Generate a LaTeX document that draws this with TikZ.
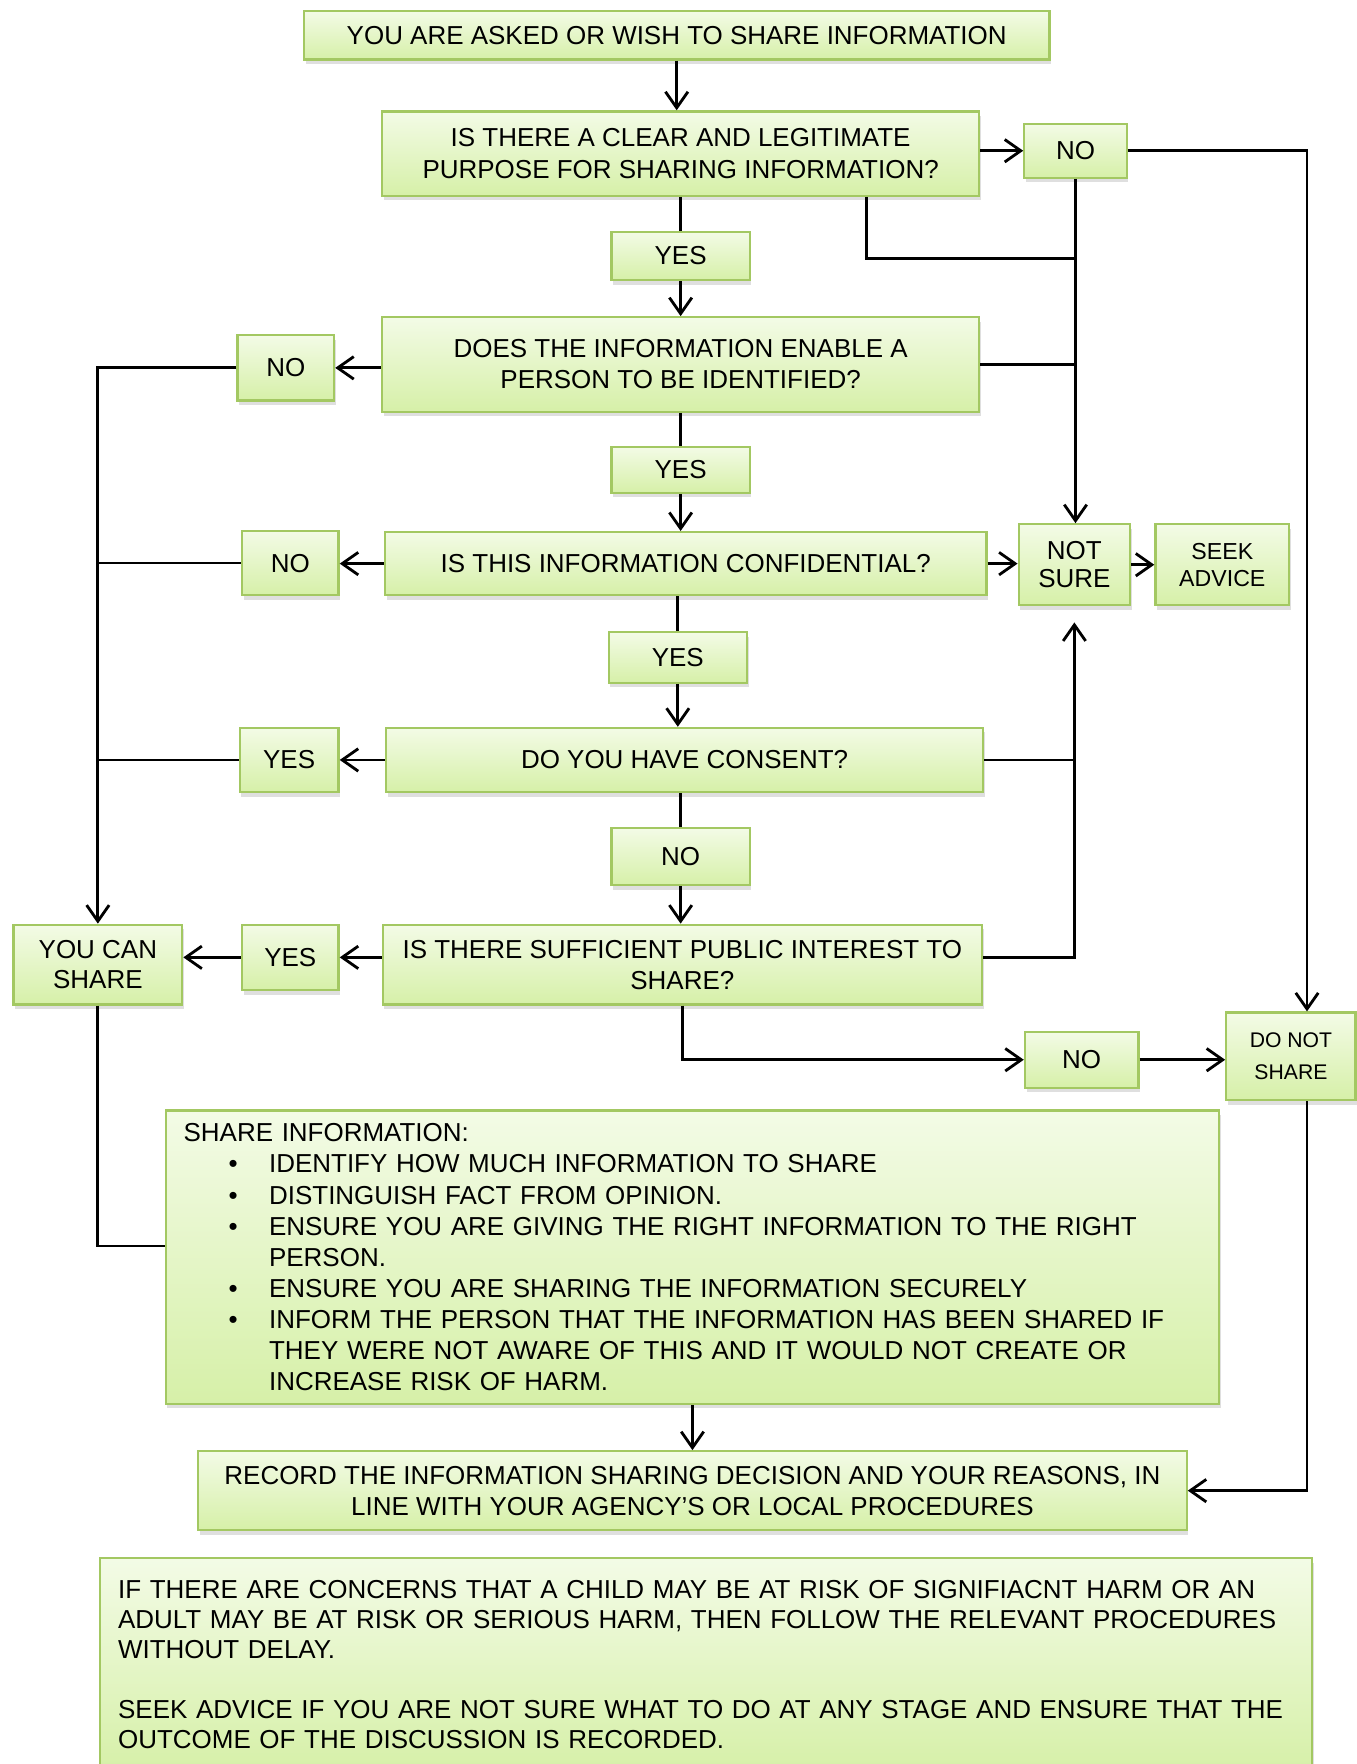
\documentclass[tikz,border=0pt]{standalone}
\usepackage{fontspec}
\setmainfont{Liberation Sans}
\usetikzlibrary{arrows.meta,shadows}
\definecolor{boxtop}{RGB}{243,251,230}
\definecolor{boxbot}{RGB}{214,240,168}
\definecolor{boxline}{RGB}{163,200,98}
\newcommand{\boxfont}{\fontsize{9.2}{11}\selectfont}
\newcommand{\infoitem}{\par\leftskip=1.064cm\relax\noindent\llap{\textbullet\hspace{0.39cm}}}
\tikzset{
  box/.style={draw=boxline, line width=0.8pt, top color=boxtop, bottom color=boxbot,
    drop shadow={shadow xshift=0.6pt, shadow yshift=-1.6pt, opacity=0.25},
    font=\boxfont, align=center, inner sep=2pt},
  note/.style={box, align=left, inner xsep=0.224cm, inner ysep=0.16cm}
}
\begin{document}
\begin{tikzpicture}[x=0.014cm, y=-0.014cm, >={Straight Barb[length=2mm,width=2.8mm]}, line width=1pt]
        \useasboundingbox (0,0) rectangle (1206,1568);
        \node[box, minimum width=9.282cm, minimum height=0.602cm] (S) at (601.5,31.5) {YOU ARE ASKED OR WISH TO SHARE INFORMATION};
        \node[box, minimum width=7.434cm, minimum height=1.05cm] (Q1) at (605,136.5) {IS THERE A CLEAR AND LEGITIMATE\\PURPOSE FOR SHARING INFORMATION?};
        \node[box, minimum width=1.274cm, minimum height=0.672cm] (N1) at (956,134) {NO};
        \node[box, minimum width=1.722cm, minimum height=0.602cm] (Y1) at (605,227.5) {YES};
        \node[box, minimum width=7.434cm, minimum height=1.176cm] (Q2) at (605,324) {DOES THE INFORMATION ENABLE A\\PERSON TO BE IDENTIFIED?};
        \node[box, minimum width=1.204cm, minimum height=0.812cm] (N2) at (254,327) {NO};
        \node[box, minimum width=1.722cm, minimum height=0.574cm] (Y2) at (605,417.5) {YES};
        \node[box, minimum width=7.49cm, minimum height=0.784cm] (Q3) at (609.5,501) {IS THIS INFORMATION CONFIDENTIAL?};
        \node[box, minimum width=1.204cm, minimum height=0.798cm] (N3) at (258,500.5) {NO};
        \node[box, minimum width=1.386cm, minimum height=1.008cm, font=\fontsize{9.2}{10}\selectfont] (NS) at (955,502) {NOT\\SURE};
        \node[box, minimum width=1.666cm, minimum height=1.008cm, font=\fontsize{8.2}{9.6}\selectfont] (SA) at (1086.5,502) {SEEK\\ADVICE};
        \node[box, minimum width=1.722cm, minimum height=0.63cm] (Y3) at (602.5,584.5) {YES};
        \node[box, minimum width=7.434cm, minimum height=0.798cm] (Q4) at (608.5,675.5) {DO YOU HAVE CONSENT?};
        \node[box, minimum width=1.232cm, minimum height=0.798cm] (Y4) at (257,675.5) {YES};
        \node[box, minimum width=1.722cm, minimum height=0.714cm] (N4) at (605,761.5) {NO};
        \node[box, minimum width=7.462cm, minimum height=0.994cm] (Q5) at (606.5,857.5) {IS THERE SUFFICIENT PUBLIC INTEREST TO\\SHARE?};
        \node[box, minimum width=1.204cm, minimum height=0.812cm] (Y5) at (258,851) {YES};
        \node[box, minimum width=2.1cm, minimum height=0.994cm, font=\fontsize{9.2}{10.6}\selectfont] (YC) at (87,857.5) {YOU CAN\\SHARE};
        \node[box, minimum width=1.414cm, minimum height=0.7cm] (N5) at (961.5,942) {NO};
        \node[box, minimum width=1.61cm, minimum height=1.092cm, font=\fontsize{7.5}{11.5}\selectfont] (DN) at (1147.5,939) {DO NOT\\SHARE};
        \node[note, text width=12.67cm, minimum height=3.654cm] (SI) at (615.5,1117.5) {SHARE INFORMATION:
          \infoitem IDENTIFY HOW MUCH INFORMATION TO SHARE
          \infoitem DISTINGUISH FACT FROM OPINION.
          \infoitem ENSURE YOU ARE GIVING THE RIGHT INFORMATION TO THE RIGHT\\PERSON.
          \infoitem ENSURE YOU ARE SHARING THE INFORMATION SECURELY
          \infoitem INFORM THE PERSON THAT THE INFORMATION HAS BEEN SHARED IF\\THEY WERE NOT AWARE OF THIS AND IT WOULD NOT CREATE OR\\INCREASE RISK OF HARM.\par};
        \node[box, minimum width=12.306cm, minimum height=0.98cm] (RC) at (615.5,1325) {RECORD THE INFORMATION SHARING DECISION AND YOUR REASONS, IN\\LINE WITH YOUR AGENCY’S OR LOCAL PROCEDURES};
        \node[note, anchor=north west, text width=14.644cm, inner ysep=0.28cm, font=\fontsize{9.2}{10.6}\selectfont] (BT) at (88,1384) {IF THERE ARE CONCERNS THAT A CHILD MAY BE AT RISK OF SIGNIFIACNT HARM OR AN\\ADULT MAY BE AT RISK OR SERIOUS HARM, THEN FOLLOW THE RELEVANT PROCEDURES\\WITHOUT DELAY.\\\mbox{}\\SEEK ADVICE IF YOU ARE NOT SURE WHAT TO DO AT ANY STAGE AND ENSURE THAT THE\\OUTCOME OF THE DISCUSSION IS RECORDED.};
        \coordinate (J) at (956,230);

        \draw[->] (S.south) -- (S.south |- Q1.north);
        \draw[->] (Q1.east |- N1.west) -- (N1.west);
        \draw[->] (N1.east) -| ([xshift=0.2cm]DN.north);
        \draw[->] (N1.south) -- (N1.south |- NS.north);
        \draw ([xshift=2.31cm]Q1.south) |- (J);
        \draw (Q1.south -| Y1.north) -- (Y1.north);
        \draw[->] (Y1.south) -- (Y1.south |- Q2.north);
        \draw[->] (Q2.west |- N2.east) -- (N2.east);
        \draw[->] (N2.west) -| (YC.north);
        \draw (Q2.east) -- (Q2.east -| N1.south);
        \draw (Q2.south -| Y2.north) -- (Y2.north);
        \draw[->] (Y2.south) -- (Y2.south |- Q3.north);
        \draw[->] (Q3.west) -- (Q3.west -| N3.east);
        \draw (N3.west) -- (N3.west -| YC.north);
        \draw[->] (Q3.east) -- (Q3.east -| NS.west);
        \draw[->] (NS.east) -- (SA.west);
        \draw (Q3.south -| Y3.north) -- (Y3.north);
        \draw[->] (Y3.south) -- (Y3.south |- Q4.north);
        \draw[->] (Q4.west) -- (Y4.east);
        \draw (Y4.west) -- (Y4.west -| YC.north);
        \draw (Q4.east) -- (Q4.east -| NS.south);
        \draw (Q4.south -| N4.north) -- (N4.north);
        \draw[->] (N4.south) -- (N4.south |- Q5.north);
        \draw[->] (Q5.west |- Y5.east) -- (Y5.east);
        \draw[->] (Y5.west) -- (Y5.west -| YC.east);
        \draw[->] ([yshift=0.09cm]Q5.east) -| ([yshift=-0.2cm]NS.south);
        \draw[->] (Q5.south) |- (N5.west);
        \draw[->] (N5.east) -- (N5.east -| DN.west);
        \draw (YC.south) |- ([yshift=0.14cm]SI.west);
        \draw[->] (SI.south) -- (RC.north);
        \draw[->] ([xshift=0.2cm]DN.south) |- (RC.east);
    \end{tikzpicture}
\end{document}
